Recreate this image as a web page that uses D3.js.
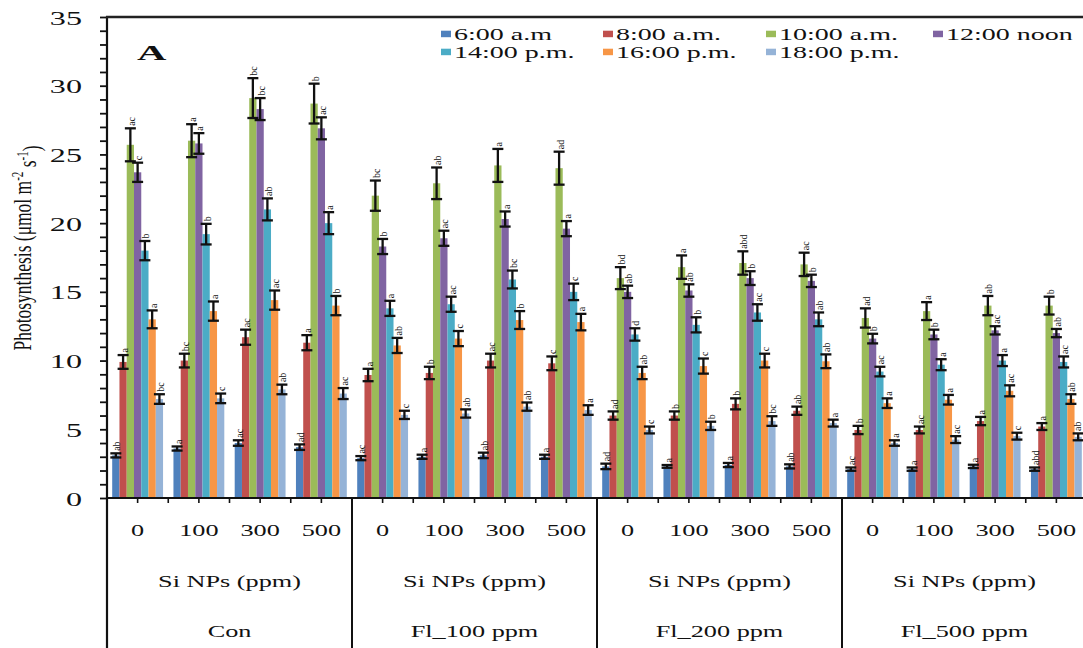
<!DOCTYPE html>
<html><head><meta charset="utf-8">
<script src="https://cdn.jsdelivr.net/npm/d3@7"></script>
<style>
body{margin:0;background:#fff}
svg{display:block;background:#fff}
text{font-family:"Liberation Serif","Times New Roman",serif;fill:#111}
</style>
</head><body>
<svg id="chart" width="1083" height="648"></svg>
<script>
// ---------- data ----------
const treatments = ["Con", "Fl_100 ppm", "Fl_200 ppm", "Fl_500 ppm"];
const doses = ["0", "100", "300", "500"];
const doseUnit = "Si NPs (ppm)";
const seriesNames = ["6:00 a.m", "8:00 a.m.", "10:00 a.m.", "12:00 noon", "14:00 p.m.", "16:00 p.m.", "18:00 p.m."];
const seriesColors = ["#4F81BD", "#C0504D", "#9BBB59", "#8064A2", "#4BACC6", "#F79646", "#95B3D7"];
const yTicks = [0, 5, 10, 15, 20, 25, 30, 35];

const v0600 = [3.1, 3.6, 4.0, 3.7, 2.9, 3.0, 3.1, 3.0, 2.3, 2.3, 2.4, 2.3, 2.1, 2.1, 2.3, 2.1];
const v0800 = [9.9, 10.0, 11.7, 11.3, 8.95, 9.1, 10.0, 9.8, 6.0, 6.0, 6.85, 6.35, 4.95, 4.95, 5.6, 5.2];
const v1000 = [25.7, 26.0, 29.1, 28.7, 22.0, 22.9, 24.2, 24.0, 16.0, 16.8, 17.1, 17.0, 13.1, 13.6, 14.0, 14.0];
const v1200 = [23.7, 25.8, 28.3, 26.9, 18.3, 18.9, 20.3, 19.6, 15.0, 15.1, 16.0, 15.8, 11.6, 11.9, 12.2, 12.0];
const v1400 = [18.0, 19.2, 21.0, 20.0, 13.8, 14.1, 15.9, 15.0, 11.9, 12.6, 13.5, 13.0, 9.2, 9.7, 10.0, 9.9];
const v1600 = [13.0, 13.6, 14.4, 14.0, 11.1, 11.6, 12.95, 12.8, 9.1, 9.6, 10.0, 9.95, 6.9, 7.15, 7.8, 7.2];
const v1800 = [7.2, 7.25, 7.9, 7.6, 6.05, 6.15, 6.65, 6.4, 4.95, 5.25, 5.6, 5.45, 4.0, 4.25, 4.5, 4.45];

const e0600 = [0.15, 0.15, 0.2, 0.2, 0.15, 0.15, 0.2, 0.15, 0.2, 0.1, 0.15, 0.15, 0.12, 0.12, 0.12, 0.12];
const e0800 = [0.5, 0.5, 0.55, 0.55, 0.45, 0.45, 0.5, 0.5, 0.3, 0.3, 0.4, 0.3, 0.3, 0.25, 0.3, 0.25];
const e1000 = [1.2, 1.2, 1.45, 1.45, 1.1, 1.15, 1.2, 1.2, 0.8, 0.85, 0.85, 0.85, 0.7, 0.65, 0.7, 0.65];
const e1200 = [0.7, 0.75, 0.8, 0.8, 0.55, 0.55, 0.55, 0.55, 0.45, 0.45, 0.5, 0.45, 0.35, 0.35, 0.3, 0.3];
const e1400 = [0.7, 0.75, 0.8, 0.8, 0.55, 0.55, 0.65, 0.6, 0.45, 0.55, 0.6, 0.5, 0.35, 0.4, 0.4, 0.4];
const e1600 = [0.65, 0.7, 0.7, 0.7, 0.55, 0.55, 0.65, 0.6, 0.45, 0.55, 0.5, 0.5, 0.35, 0.35, 0.4, 0.35];
const e1800 = [0.35, 0.35, 0.35, 0.4, 0.3, 0.3, 0.3, 0.35, 0.25, 0.3, 0.35, 0.25, 0.2, 0.25, 0.25, 0.25];

const l0600 = ["ab","a","ac","ad","ac","a","ab","a","ad","a","a","ab","ac","a","a","abd"];
const l0800 = ["a","bc","ac","a","a","b","ac","c","ad","b","b","ab","b","ac","a","a"];
const l1000 = ["ac","a","bc","b","bc","ab","a","ad","bd","a","abd","ac","ad","a","ab","b"];
const l1200 = ["c","a","bc","ac","b","ac","a","a","ab","ab","b","b","b","b","ac","ab"];
const l1400 = ["b","b","ab","a","a","ac","bc","c","d","b","ac","ab","ac","a","a","ac"];
const l1600 = ["a","a","ac","b","ab","c","b","a","ab","c","c","ab","a","a","ac","ab"];
const l1800 = ["bc","c","ab","ac","c","ab","ab","a","c","b","bc","a","a","ac","c","ab"];

const values = [v0600, v0800, v1000, v1200, v1400, v1600, v1800];
const errors = [e0600, e0800, e1000, e1200, e1400, e1600, e1800];
const letters = [l0600, l0800, l1000, l1200, l1400, l1600, l1800];

// ---------- layout ----------
const W = 1083;
const svg = d3.select("#chart");
const groupKeys = treatments.flatMap(t => doses.map(d => t + "|" + d));
const x = d3.scaleBand().domain(groupKeys).range([107, 1087]).padding(0);
const xs = d3.scaleBand().domain(seriesNames).range([5.2, x.bandwidth() - 5.2]).padding(0);
const y = d3.scaleLinear().domain([0, 35]).range([498, 17]);

const records = [];
seriesNames.forEach((s, i) => {
  groupKeys.forEach((g, j) => {
    records.push({s, i, g, v: values[i][j], e: errors[i][j], l: letters[i][j]});
  });
});

// bars
svg.append("g").selectAll("rect").data(records).join("rect")
  .attr("x", d => x(d.g) + xs(d.s))
  .attr("width", xs.bandwidth())
  .attr("y", d => y(d.v))
  .attr("height", d => y(0) - y(d.v))
  .attr("fill", d => seriesColors[d.i]);

// error bars
const eb = svg.append("g").attr("stroke", "#111").attr("stroke-width", 2.3).attr("fill", "none");
const cap = 5.5;
records.forEach(d => {
  const cx = x(d.g) + xs(d.s) + xs.bandwidth() / 2;
  const y1 = y(d.v + d.e), y2 = y(d.v - d.e);
  eb.append("line").attr("x1", cx).attr("x2", cx).attr("y1", y1).attr("y2", y2);
  eb.append("line").attr("x1", cx - cap).attr("x2", cx + cap).attr("y1", y1).attr("y2", y1);
  eb.append("line").attr("x1", cx - cap).attr("x2", cx + cap).attr("y1", y2).attr("y2", y2);
});

// significance letters (rotated, reading bottom-to-top)
svg.append("g").selectAll("text").data(records).join("text")
  .attr("transform", d => {
    const cx = Math.min(x(d.g) + xs(d.s) + xs.bandwidth() / 2 + 1, W - 6);
    return `translate(${cx},${y(d.v + d.e) - 2.5}) rotate(-90)`;
  })
  .attr("text-anchor", "start")
  .attr("dominant-baseline", "central")
  .style("font-size", "10px")
  .text(d => d.l);

// ---------- axes ----------
const yAxis = d3.axisLeft(y).tickValues(d3.range(0, 36, 1)).tickSize(7).tickFormat(d => yTicks.includes(d) ? d : "");
const ya = svg.append("g").attr("transform", "translate(107,0)").call(yAxis);
ya.select(".domain").remove();
ya.selectAll(".tick line").attr("stroke", "#111").attr("stroke-width", 1.8);
ya.selectAll(".tick text")
  .attr("x", 0).attr("dy", "0.36em")
  .attr("transform", "translate(-25,0) scale(1.65,1)")
  .style("font-size", "19.5px").style("font-family", '"Liberation Serif", serif').attr("fill", "#111");

// y axis line full height
svg.append("line").attr("x1", 107).attr("x2", 107).attr("y1", 16).attr("y2", 648)
  .attr("stroke", "#111").attr("stroke-width", 2.2);
// top frame
svg.append("line").attr("x1", 106).attr("x2", W).attr("y1", y(35)).attr("y2", y(35))
  .attr("stroke", "#222").attr("stroke-width", 2.6);

// x axis line + ticks
svg.append("line").attr("x1", 106).attr("x2", W).attr("y1", y(0)).attr("y2", y(0))
  .attr("stroke", "#111").attr("stroke-width", 2.2);
const xAxis = d3.axisBottom(x).tickSize(5).tickFormat("");
const xa = svg.append("g").attr("transform", `translate(0,${y(0)})`).call(xAxis);
xa.select(".domain").remove();
xa.selectAll(".tick line").attr("stroke", "#111").attr("stroke-width", 1.6);
svg.append("g").selectAll("line").data(groupKeys).join("line")
  .attr("x1", d => x(d)).attr("x2", d => x(d))
  .attr("y1", y(0)).attr("y2", y(0) + 5)
  .attr("stroke", "#111").attr("stroke-width", 1.6);

// category table lines
const treatStart = t => x(t + "|" + doses[0]);
const treatEnd = t => x(t + "|" + doses[doses.length - 1]) + x.bandwidth();
svg.append("g").selectAll("line").data(treatments.slice(1)).join("line")
  .attr("x1", d => treatStart(d)).attr("x2", d => treatStart(d))
  .attr("y1", y(0)).attr("y2", 648)
  .attr("stroke", "#111").attr("stroke-width", 2);

// dose labels
svg.append("g").selectAll("text").data(groupKeys).join("text")
  .attr("transform", d => `translate(${x(d) + x.bandwidth() / 2},536) scale(1.5,1)`)
  .attr("text-anchor", "middle")
  .style("font-size", "17.5px")
  .text(d => d.split("|")[1]);
// Si NPs labels
svg.append("g").selectAll("text").data(treatments).join("text")
  .attr("transform", d => `translate(${(treatStart(d) + treatEnd(d)) / 2},587) scale(1.5,1)`)
  .attr("text-anchor", "middle")
  .style("font-size", "17.5px")
  .text(doseUnit);
// treatment labels
svg.append("g").selectAll("text").data(treatments).join("text")
  .attr("transform", d => `translate(${(treatStart(d) + treatEnd(d)) / 2},637) scale(1.5,1)`)
  .attr("text-anchor", "middle")
  .style("font-size", "17.5px")
  .text(d => d);

// y axis title
const yt = svg.append("text")
  .attr("transform", "translate(31,248) rotate(-90) scale(1,1.45)")
  .attr("text-anchor", "middle")
  .style("font-size", "17.5px");
yt.append("tspan").text("Photosynthesis (μmol m");
yt.append("tspan").attr("dy", "-0.5em").style("font-size", "11px").text("-2");
yt.append("tspan").attr("dy", "0.5em").text(" s");
yt.append("tspan").attr("dy", "-0.5em").style("font-size", "11px").text("-1");
yt.append("tspan").attr("dy", "0.5em").text(")");

// panel letter
svg.append("text").attr("transform", "translate(137,60) scale(1.85,1)")
  .style("font-size", "22px").style("font-weight", "bold").text("A");

// legend
const legCols = [441, 603, 766, 933];
const legRows = [39.5, 57.5];   // text baselines
const lg = svg.append("g").selectAll("g").data(seriesNames).join("g")
  .attr("transform", (d, i) => `translate(${legCols[i % 4]},${legRows[Math.floor(i / 4)]})`);
lg.append("rect").attr("x", 0).attr("y", -8.8).attr("width", 10).attr("height", 6.5)
  .attr("fill", (d, i) => seriesColors[i]);
lg.append("text").attr("transform", "translate(13,0) scale(1.75,1)")
  .style("font-size", "16px").text(d => d);
</script>
</body></html>
